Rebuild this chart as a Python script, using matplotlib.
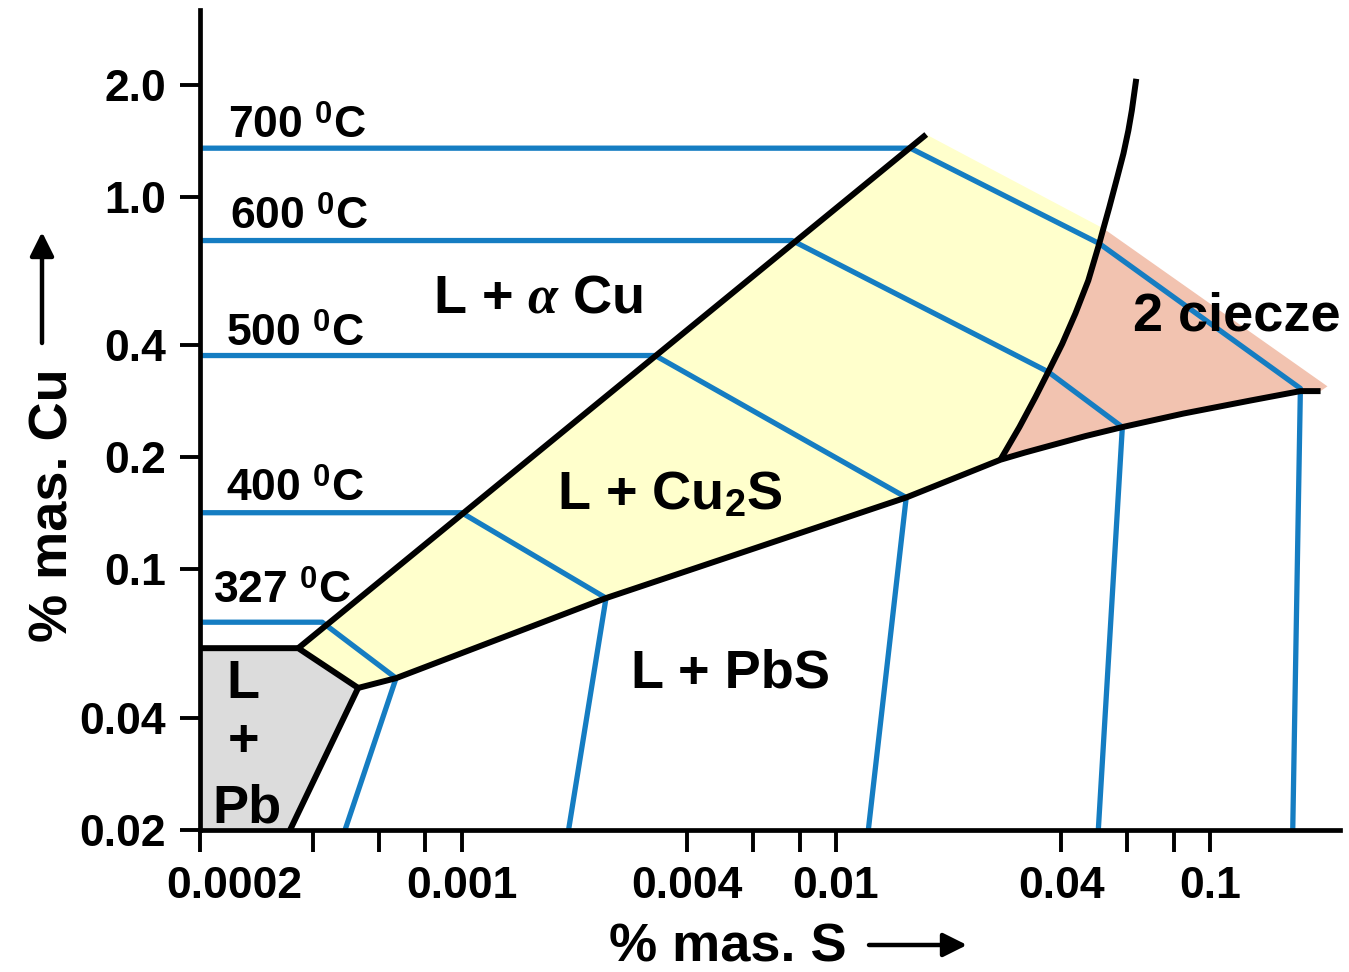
import matplotlib
matplotlib.use('Agg')
import matplotlib.pyplot as plt
from matplotlib.patches import FancyArrowPatch
from matplotlib.transforms import ScaledTranslation

plt.rcParams['font.family'] = ['Liberation Sans', 'DejaVu Sans']
plt.rcParams['font.weight'] = 'bold'
plt.rcParams['mathtext.fontset'] = 'custom'
plt.rcParams['mathtext.rm'] = 'Liberation Sans:bold'
plt.rcParams['mathtext.bf'] = 'Liberation Sans:bold'
plt.rcParams['mathtext.it'] = 'Liberation Serif:italic'

# axis ticks
x_ticks = [0.0002, 0.0004, 0.0006, 0.0008, 0.001, 0.004, 0.006, 0.008,
           0.01, 0.04, 0.06, 0.08, 0.1]
x_labels = ['0.0002', '', '', '', '0.001', '0.004', '', '',
            '0.01', '0.04', '', '', '0.1']
y_ticks = [0.02, 0.04, 0.1, 0.2, 0.4, 1.0, 2.0]
y_labels = ['0.02', '0.04', '0.1', '0.2', '0.4', '1.0', '2.0']

# isothermal tie lines (% S, % Cu)
temps = ['700', '600', '500', '400', '327']
tie_s = [[0.0002, 0.0158, 0.0505, 0.174, 0.166],
         [0.0002, 0.00764, 0.0369, 0.0582, 0.0502],
         [0.0002, 0.00329, 0.0154, 0.0122],
         [0.0002, 0.00100, 0.00243, 0.00193],
         [0.0002, 0.000424, 0.000668, 0.000488]]
tie_cu = [[1.35, 1.35, 0.749, 0.306, 0.02],
          [0.763, 0.763, 0.339, 0.241, 0.02],
          [0.375, 0.375, 0.156, 0.02],
          [0.142, 0.142, 0.0838, 0.02],
          [0.0722, 0.0722, 0.0511, 0.02]]

# L + aCu / L + Cu2S boundary
cu_s = [0.000366, 0.01742]
cu_cu = [0.0615, 1.469]

# L + Pb field boundary
pb_s = [0.0002, 0.000366, 0.000529, 0.000348]
pb_cu = [0.0615, 0.0615, 0.0481, 0.02]

# L + Cu2S / L + PbS boundary (continues under the 2-liquid field)
pbs_s = [0.000529, 0.000668, 0.00243, 0.0154, 0.0275, 0.0320, 0.0374,
         0.0464, 0.0582, 0.0847, 0.128, 0.174, 0.197]
pbs_cu = [0.0481, 0.0511, 0.0838, 0.156, 0.197, 0.206, 0.215,
          0.228, 0.241, 0.262, 0.284, 0.301, 0.301]

# miscibility gap boundary (index 8 = corner of the shaded fields)
mis_s = [0.0275, 0.0309, 0.0341, 0.0369, 0.0402, 0.0436, 0.0472, 0.0505,
         0.0518, 0.0537, 0.0564, 0.0586, 0.0604, 0.0617, 0.0634]
mis_cu = [0.197, 0.241, 0.290, 0.339, 0.403, 0.486, 0.596, 0.749,
          0.822, 0.936, 1.127, 1.306, 1.506, 1.704, 2.072]

# tip of the 2-liquid field
tip_s = 0.2055
tip_cu = 0.310

blue = '#157dc2'
yellow = '#ffffcc'
pink = '#f2c3b0'
grey = '#dcdcdc'

fig = plt.figure(figsize=(13.49, 9.72), dpi=100)
ax = fig.add_axes([200 / 1349, 142 / 972, 1140 / 1349, 820 / 972])
ax.set_xscale('log')
ax.set_yscale('log')
ax.set_xlim(0.0002, 0.222)
ax.set_ylim(0.02, 3.17)

# shaded fields
yel_s = cu_s + mis_s[8::-1] + pbs_s[3::-1]
yel_cu = cu_cu + mis_cu[8::-1] + pbs_cu[3::-1]
ax.fill(yel_s, yel_cu, color=yellow, lw=0, zorder=1)

pink_s = [mis_s[8], tip_s] + pbs_s[:3:-1] + mis_s[1:9]
pink_cu = [mis_cu[8], tip_cu] + pbs_cu[:3:-1] + mis_cu[1:9]
ax.fill(pink_s, pink_cu, color=pink, lw=0, zorder=1)

ax.fill(pb_s + [0.0002], pb_cu + [0.02], color=grey, lw=0, zorder=1)

# tie lines
for s, cu in zip(tie_s, tie_cu):
    ax.plot(s, cu, color=blue, lw=3.8, zorder=2, solid_capstyle='butt')

# phase boundaries
for s, cu in [(cu_s, cu_cu), (pb_s, pb_cu), (pbs_s, pbs_cu), (mis_s, mis_cu)]:
    ax.plot(s, cu, color='black', lw=4.3, zorder=3, solid_capstyle='butt')

# axes look
for side in ['top', 'right']:
    ax.spines[side].set_visible(False)
for side in ['left', 'bottom']:
    ax.spines[side].set_linewidth(3.4)
    ax.spines[side].set_zorder(4)
ax.set_xticks(x_ticks)
ax.set_xticklabels(x_labels)
ax.set_yticks(y_ticks)
ax.set_yticklabels(y_labels)
ax.minorticks_off()
ax.tick_params(axis='x', length=16, width=2.8, pad=10, labelsize=32)
ax.tick_params(axis='y', length=14.5, width=2.8, pad=10, labelsize=32)
first = ax.get_xticklabels()[0]
first.set_transform(first.get_transform() + ScaledTranslation(0.34, 0, fig.dpi_scale_trans))

# temperature labels
temp_pos = [(0.000238, 1.442), (0.000241, 0.822), (0.000234, 0.399),
            (0.000234, 0.153), (0.000217, 0.0812)]
for t, (px, py) in zip(temps, temp_pos):
    ax.text(px, py, t + r' $^{0}$C', fontsize=32, ha='left', va='baseline')

# field labels
ax.text(0.0016, 0.489, r'L + $\alpha$ Cu', fontsize=39, ha='center', va='baseline')
ax.text(0.003606, 0.1451, r'L + Cu$_2$S', fontsize=39, ha='center', va='baseline')
ax.text(0.005218, 0.0481, 'L + PbS', fontsize=39, ha='center', va='baseline')
ax.text(0.1174, 0.438, '2 ciecze', fontsize=39, ha='center', va='baseline')
ax.text(0.000261, 0.0452, 'L', fontsize=39, ha='center', va='baseline')
ax.text(0.000261, 0.0344, '+', fontsize=39, ha='center', va='center')
ax.text(0.000267, 0.0209, 'Pb', fontsize=39, ha='center', va='baseline')

# axis titles with arrows
fig.text(728 / 1349, 11 / 972, '% mas. S', fontsize=39, ha='center', va='baseline')
fig.text(67 / 1349, 467 / 972, '% mas. Cu', fontsize=39, rotation=90,
         rotation_mode='anchor', ha='center', va='baseline')
arrow = dict(arrowstyle='-|>', lw=3.2, color='black', mutation_scale=36,
             shrinkA=0, shrinkB=0, transform=fig.transFigure)
fig.add_artist(FancyArrowPatch((869 / 1349, 27 / 972), (967 / 1349, 27 / 972), **arrow))
fig.add_artist(FancyArrowPatch((42 / 1349, 629 / 972), (42 / 1349, 740 / 972), **arrow))

fig.savefig('out.png', dpi=100)
